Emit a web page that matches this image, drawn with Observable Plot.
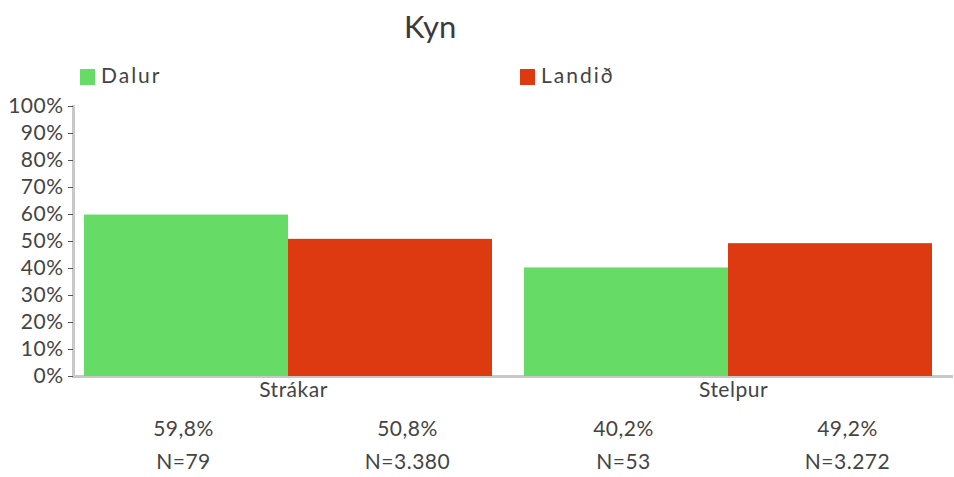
<!DOCTYPE html>
<html>
<head>
<meta charset="utf-8">
<script src="https://cdn.jsdelivr.net/npm/d3@7"></script>
<script src="https://cdn.jsdelivr.net/npm/@observablehq/plot@0.6"></script>
<style>
  body { margin: 0; background: white; font-family: Lato, sans-serif; color: #444; }
  #title { height: 50px; position: relative; }
  #title span { position: absolute; left: 404px; top: 7px; font-size: 31px; color: #3a3a3a; }
  #legend { height: 40px; position: relative; }
  .item { position: absolute; top: 13px; font-size: 21px; letter-spacing: 2px; color: #444; line-height: 24px; }
  .sw { display: inline-block; width: 15px; height: 16px; vertical-align: -2px; margin-right: 6px; }
  #chart text { letter-spacing: 0.5px; }
</style>
</head>
<body>
<div id="title"><span>Kyn</span></div>
<div id="legend"></div>
<div id="chart"></div>
<script>
const categories = ["Strákar", "Stelpur"];
const series = ["Dalur", "Landið"];
const colors = ["#66dc66", "#de3a12"];
const dalur = [59.8, 40.2];
const landid = [50.8, 49.2];
const nDalur = [79, 53];
const nLandid = [3380, 3272];
const yTicks = [0, 10, 20, 30, 40, 50, 60, 70, 80, 90, 100];

const data = categories.flatMap((c, i) => [
  {cat: c, series: "Dalur", value: dalur[i], n: nDalur[i]},
  {cat: c, series: "Landið", value: landid[i], n: nLandid[i]}
]);
const fmtPct = v => v.toFixed(1).replace(".", ",") + "%";
const fmtN = n => "N=" + d3.format(",")(n).replace(/,/g, ".");

const legend = document.getElementById("legend");
[80, 520].forEach((left, i) => {
  const d = document.createElement("div");
  d.className = "item";
  d.style.left = left + "px";
  d.innerHTML = `<span class="sw" style="background:${colors[i]}"></span>${series[i]}`;
  legend.appendChild(d);
});

const fs = 21;
const chart = Plot.plot({
  width: 954,
  height: 387,
  marginLeft: 73,
  marginRight: 1,
  marginTop: 16,
  marginBottom: 101,
  style: {fontFamily: "Lato, sans-serif", fontSize: "21px", color: "#444", background: "white"},
  fx: {domain: categories, padding: 0, axis: null},
  x: {domain: series, paddingInner: 0, paddingOuter: 0.0784, align: 0.35, axis: null},
  y: {domain: [0, 100], axis: null},
  color: {domain: series, range: colors},
  marks: [
    Plot.frame({anchor: "left", facetAnchor: "left", stroke: "#c8c8c8", strokeWidth: 3}),
    Plot.ruleY([0], {stroke: "#c8c8c8", strokeWidth: 3}),
    Plot.barY(data, {fx: "cat", x: "series", y: "value", fill: "series"}),
    Plot.axisY({ticks: yTicks, tickFormat: d => d + "%", label: null, tickSize: 5, tickPadding: 5, stroke: "#555", fill: "#444", fontSize: fs}),
    Plot.text(categories, {fx: d => d, text: d => d, frameAnchor: "bottom", dy: 20, fill: "#444", fontSize: fs}),
    Plot.text(data.filter(d => d.series === "Dalur"), {fx: "cat", x: "series", text: d => fmtPct(d.value), frameAnchor: "bottom", dy: 59, dx: -3, fill: "#444", fontSize: fs}),
    Plot.text(data.filter(d => d.series === "Landið"), {fx: "cat", x: "series", text: d => fmtPct(d.value), frameAnchor: "bottom", dy: 59, dx: 17, fill: "#444", fontSize: fs}),
    Plot.text(data.filter(d => d.series === "Dalur"), {fx: "cat", x: "series", text: d => fmtN(d.n), frameAnchor: "bottom", dy: 92, dx: -3, fill: "#444", fontSize: fs}),
    Plot.text(data.filter(d => d.series === "Landið"), {fx: "cat", x: "series", text: d => fmtN(d.n), frameAnchor: "bottom", dy: 92, dx: 17, fill: "#444", fontSize: fs})
  ]
});
document.getElementById("chart").appendChild(chart);
</script>
</body>
</html>
